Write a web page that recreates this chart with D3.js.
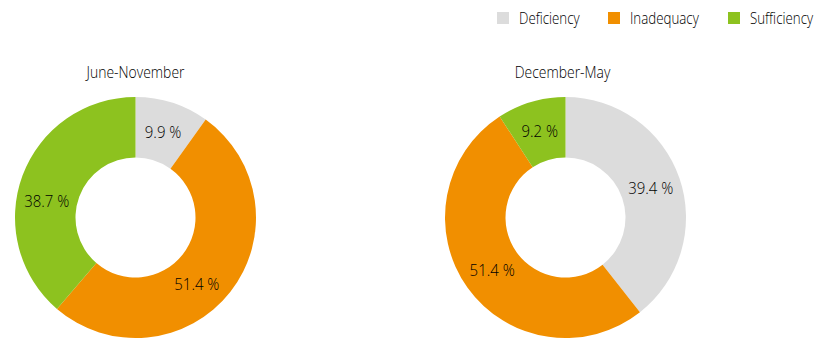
<!DOCTYPE html>
<html><head><meta charset="utf-8">
<script src="https://cdn.jsdelivr.net/npm/d3@7"></script>
<style>body{margin:0;background:#fff}svg{display:block}text{font-family:"Open Sans",sans-serif;font-weight:300}</style>
</head><body><svg id="c" width="832" height="350"></svg>
<script>
const categories = ["Deficiency", "Inadequacy", "Sufficiency"];
const periods = ["June-November", "December-May"];
const valuesJuneNov = [9.9, 51.4, 38.7];
const valuesDecMay = [39.4, 51.4, 9.2];
const colors = ["#dcdcdc", "#f18f00", "#8dc21f"];

const svg = d3.select("#c");
const color = d3.scaleOrdinal().domain(categories).range(colors);
const xPos = d3.scalePoint().domain(periods).range([135.5, 565.5]);
const cy = 217.5, rOut = 120.5, rIn = 60;
const pie = d3.pie().sort(null).value(d => d.v);
const arc = d3.arc().innerRadius(rIn).outerRadius(rOut);
const rLab = (rIn + rOut) / 2;
// small angular nudges (degrees) for labels, as placed in the original
const nudge = [{Sufficiency: -10, Inadequacy: 9}, {}];

function condensed(sel, x, y, sx) {
  return sel.attr("transform", `translate(${x},${y}) scale(${sx},1)`);
}

[valuesJuneNov, valuesDecMay].forEach((vals, i) => {
  const data = categories.map((c, j) => ({c, v: vals[j]}));
  const g = svg.append("g").attr("transform", `translate(${xPos(periods[i])},${cy})`);
  const arcs = pie(data);
  g.selectAll("path").data(arcs).join("path")
    .attr("d", arc).attr("fill", d => color(d.data.c));
  arcs.forEach(d => {
    const a = (d.startAngle + d.endAngle) / 2 + ((nudge[i][d.data.c] || 0) * Math.PI / 180);
    const x = rLab * Math.sin(a), y = -rLab * Math.cos(a);
    condensed(g.append("text"), x, y, 0.88)
      .attr("text-anchor", "middle").attr("dy", "0.36em")
      .attr("font-size", 17).attr("fill", "#000")
      .text(d3.format(".1f")(d.data.v) + " %");
  });
  condensed(svg.append("text"), xPos(periods[i]) - (i ? 3 : 0), 77.5, 0.82)
    .attr("text-anchor", "middle").attr("font-size", 17).attr("fill", "#000")
    .text(periods[i]);
});

const legX = d3.scaleOrdinal().domain(categories).range([497, 608, 728]);
const leg = svg.append("g");
categories.forEach(c => {
  leg.append("rect").attr("x", legX(c)).attr("y", 12).attr("width", 12).attr("height", 12)
    .attr("fill", color(c));
  condensed(leg.append("text"), legX(c) + 22, 24, 0.86).attr("font-size", 15.5)
    .attr("fill", "#000").text(c);
});
</script></body></html>
